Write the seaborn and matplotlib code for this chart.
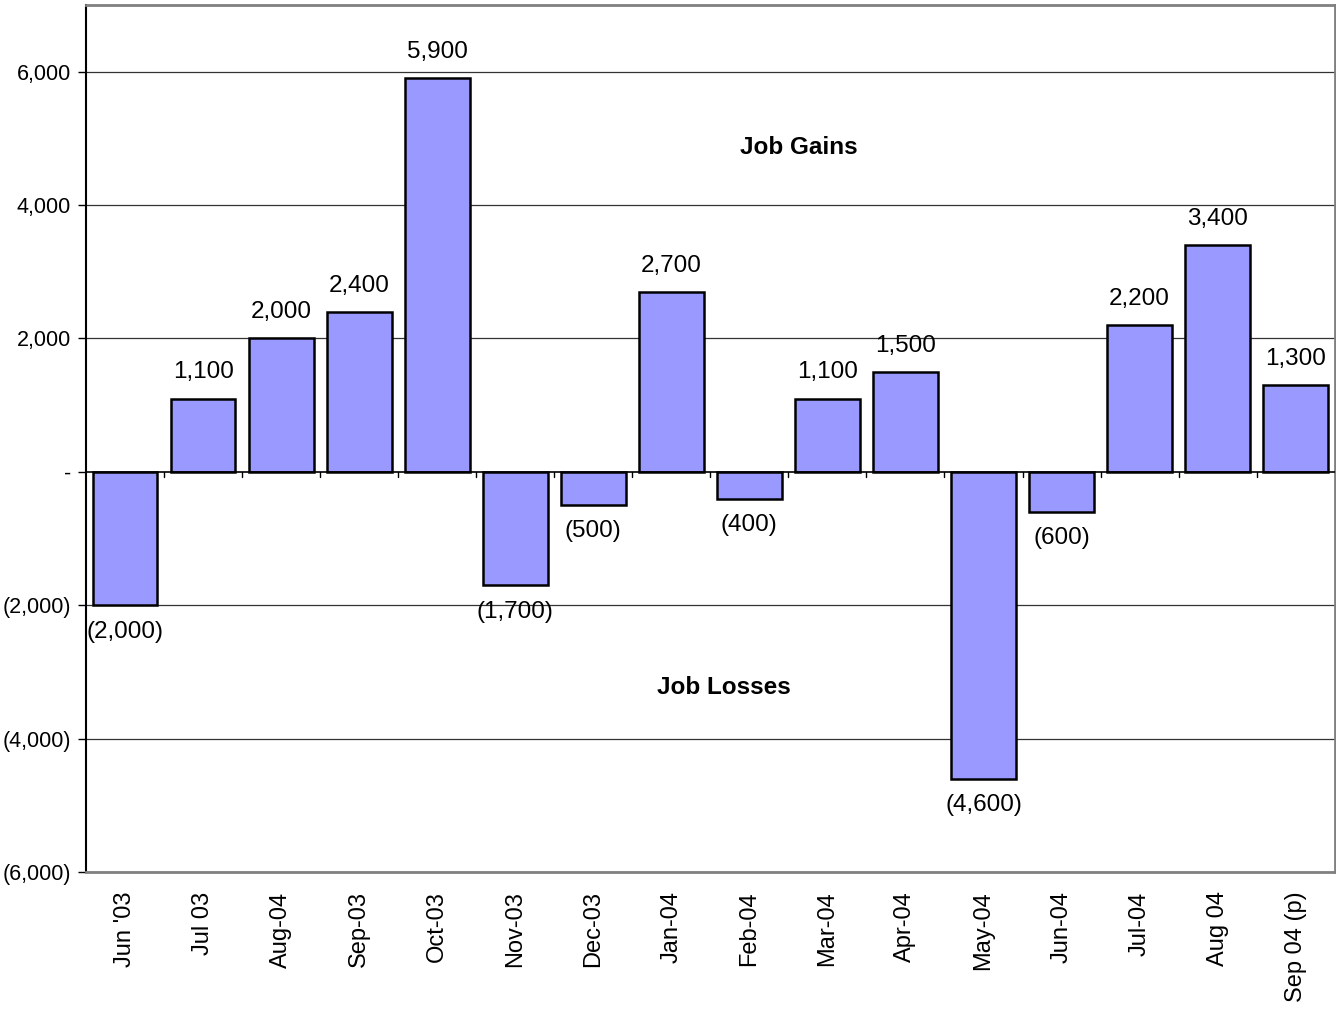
import matplotlib
matplotlib.use("Agg")
import matplotlib.pyplot as plt
import seaborn as sns
import pandas as pd
import numpy as np

months = ["Jun '03", "Jul 03", "Aug-04", "Sep-03", "Oct-03", "Nov-03", "Dec-03", "Jan-04",
          "Feb-04", "Mar-04", "Apr-04", "May-04", "Jun-04", "Jul-04", "Aug 04", "Sep 04 (p)"]
jobs = [-2000, 1100, 2000, 2400, 5900, -1700, -500, 2700, -400, 1100, 1500, -4600, -600, 2200, 3400, 1300]
yticks = [-6000, -4000, -2000, 0, 2000, 4000, 6000]

sns.set_theme(style="white")
FONT = ["Liberation Sans Narrow", "Liberation Sans", "DejaVu Sans"]
plt.rcParams["font.family"] = FONT
plt.rcParams["text.color"] = "black"
plt.rcParams["xtick.color"] = "black"
plt.rcParams["ytick.color"] = "black"
plt.rcParams["xtick.labelcolor"] = "black"
plt.rcParams["ytick.labelcolor"] = "black"

df = pd.DataFrame({"month": months, "jobs": jobs})

fig = plt.figure(figsize=(13.36, 10.11), dpi=100)
ax = fig.add_axes([0.0644, 0.1375, 0.9346, 0.8575])

sns.barplot(data=df, x="month", y="jobs", color="#9999FF", saturation=1,
            edgecolor="black", linewidth=1.8, width=0.83, ax=ax, zorder=3)

ax.set_ylim(-6000, 7000)
ax.set_xlim(-0.5, len(months) - 0.5)
ax.set_yticks(yticks)

def fmt(v):
    if v == 0:
        return "-"
    if v < 0:
        return f"({abs(v):,})"
    return f"{v:,}"

ax.set_yticklabels([fmt(v) for v in yticks], fontsize=15.5)
ax.set_xticks(range(len(months)))
ax.set_xticklabels(months, rotation=90, fontsize=17, family=["Liberation Sans", "DejaVu Sans"],
                   va="top")
ax.tick_params(axis="x", length=0, pad=14)
ax.tick_params(axis="y", length=6, width=1, color="black", left=True, pad=5)
ax.set_xlabel("")
ax.set_ylabel("")

for v in yticks:
    if v != 0:
        ax.axhline(v, color="#333333", linewidth=0.9, zorder=1)
ax.axhline(0, color="black", linewidth=1.2, zorder=4)
# category boundary ticks on the zero line
for i in range(len(months) - 1):
    ax.plot([i + 0.5, i + 0.5], [0, -80], color="black", linewidth=1, zorder=4)

for i, v in enumerate(jobs):
    if v >= 0:
        ax.annotate(fmt(v), (i, v), xytext=(0, 11), textcoords="offset points",
                    ha="center", va="bottom", fontsize=17.5)
    else:
        ax.annotate(fmt(v), (i, v), xytext=(0, -11), textcoords="offset points",
                    ha="center", va="top", fontsize=17.5)

ax.text(8.63, 4860, "Job Gains", ha="center", va="center", fontsize=17.5,
        fontweight="bold", family=["Liberation Sans", "DejaVu Sans"])
ax.text(7.67, -3240, "Job Losses", ha="center", va="center", fontsize=17.5,
        fontweight="bold", family=["Liberation Sans", "DejaVu Sans"])

for s in ["top", "right", "bottom"]:
    ax.spines[s].set_color("#808080")
    ax.spines[s].set_linewidth(2)
ax.spines["left"].set_color("black")
ax.spines["left"].set_linewidth(1.5)

fig.savefig("out.png", dpi=100)
